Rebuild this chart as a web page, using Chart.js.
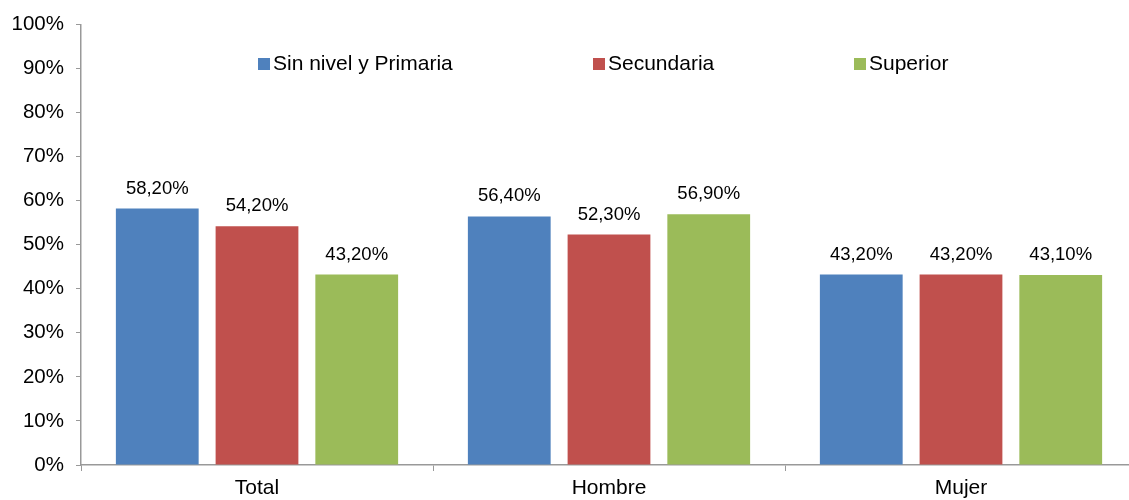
<!DOCTYPE html>
<html>
<head>
<meta charset="utf-8">
<script src="https://cdn.jsdelivr.net/npm/chart.js@4/dist/chart.umd.min.js"></script>
<style>
  html, body { margin: 0; padding: 0; background: #fff; overflow: hidden; }
  #wrap { width: 1140px; height: 500px; }
</style>
</head>
<body>
<div id="wrap"><canvas id="chart" width="1140" height="500"></canvas></div>
<script>
// categorias y series (valores en %)
const CATEGORIES = ['Total', 'Hombre', 'Mujer'];
const SERIES_NAMES = ['Sin nivel y Primaria', 'Secundaria', 'Superior'];
const PRIMARIA = [58.2, 56.4, 43.2];
const SECUNDARIA = [54.2, 52.3, 43.2];
const SUPERIOR = [43.2, 56.9, 43.1];
const COLORS = ['#4F81BD', '#C0504D', '#9BBB59'];
const Y_TICKS = [0, 10, 20, 30, 40, 50, 60, 70, 80, 90, 100];

const FONT = "'Liberation Sans', Arial, sans-serif";
const fmt = v => v.toFixed(2).replace('.', ',') + '%';

// etiquetas encima de cada barra
const valueLabels = {
  id: 'valueLabels',
  afterDatasetsDraw(chart) {
    const ctx = chart.ctx;
    ctx.save();
    ctx.font = '18.5px ' + FONT;
    ctx.fillStyle = '#000';
    ctx.textAlign = 'center';
    ctx.textBaseline = 'alphabetic';
    chart.data.datasets.forEach((ds, i) => {
      chart.getDatasetMeta(i).data.forEach((bar, j) => {
        ctx.fillText(fmt(ds.data[j]), bar.x, bar.y - 15);
      });
    });
    ctx.restore();
  }
};

// leyenda dentro del grafico, como en el original
const LEGEND_X = [258, 593, 854];
const insideLegend = {
  id: 'insideLegend',
  afterDraw(chart) {
    const ctx = chart.ctx;
    ctx.save();
    ctx.font = '21px ' + FONT;
    ctx.textBaseline = 'middle';
    ctx.textAlign = 'left';
    chart.data.datasets.forEach((ds, i) => {
      const x = LEGEND_X[i];
      ctx.fillStyle = ds.backgroundColor;
      ctx.fillRect(x, 58, 12, 12);
      ctx.fillStyle = '#000';
      ctx.fillText(ds.label, x + 15, 64);
    });
    ctx.restore();
  }
};

new Chart(document.getElementById('chart'), {
  type: 'bar',
  data: {
    labels: CATEGORIES,
    datasets: [PRIMARIA, SECUNDARIA, SUPERIOR].map((d, i) => ({
      label: SERIES_NAMES[i],
      data: d,
      backgroundColor: COLORS[i],
      barPercentage: 0.83,
      categoryPercentage: 0.85,
    })),
  },
  options: {
    responsive: false,
    animation: false,
    layout: { padding: { top: 14, right: 3, bottom: 0, left: 0 } },
    plugins: { legend: { display: false }, tooltip: { enabled: false } },
    scales: {
      x: {
        afterFit(scale) { scale.height = 35; },
        grid: { drawOnChartArea: false, drawTicks: true, tickLength: 6, color: '#999', offset: true },
        border: { display: true, color: '#999', width: 1.5 },
        ticks: { color: '#000', font: { family: FONT, size: 21 }, padding: 5 },
      },
      y: {
        min: 0,
        max: 100,
        afterFit(scale) { scale.width = 81; },
        afterBuildTicks(scale) { scale.ticks = Y_TICKS.map(v => ({ value: v })); },
        grid: { drawOnChartArea: false, drawTicks: true, tickLength: 5, color: '#999' },
        border: { display: true, color: '#999', width: 1.5 },
        ticks: { color: '#000', font: { family: FONT, size: 20.5 }, padding: 12, callback: v => v + '%' },
      },
    },
  },
  plugins: [valueLabels, insideLegend],
});
</script>
</body>
</html>
